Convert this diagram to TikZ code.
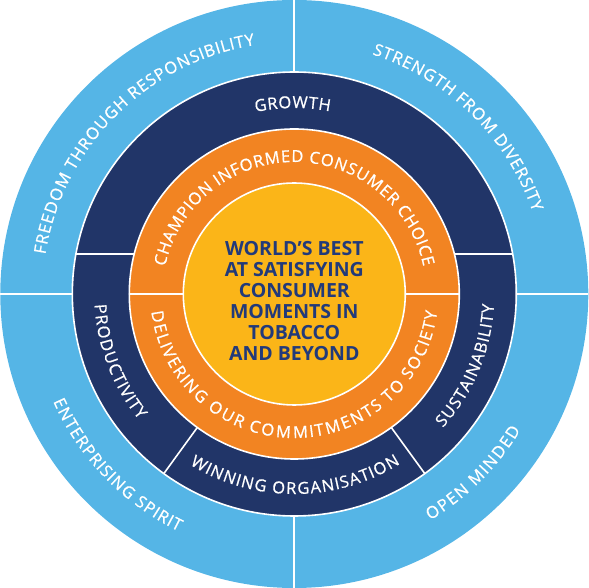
\documentclass[tikz,border=0pt]{standalone}
\usepackage{fontspec}
\setmainfont{Open Sans}
\newfontfamily\lblfam{Open Sans}[FakeBold=0.7]
\usetikzlibrary{decorations.text}
\definecolor{lblue}{HTML}{55B5E6}
\definecolor{navy}{HTML}{213568}
\definecolor{orng}{HTML}{F28422}
\definecolor{yell}{HTML}{FBB518}
\definecolor{ctext}{HTML}{223A7A}
\newcommand\lblfont{\lblfam\fontsize{16.5}{16.5}\selectfont}
\newcommand\ctrfont{\fontsize{19.5}{21}\selectfont\bfseries}
\begin{document}
\begin{tikzpicture}[x=1pt,y=1pt,
  ringtxt/.style={font=\lblfont, text=white, decorate, decoration={text effects along path, text={#1},
     text effects/.cd, text along path, fit text to path,
     characters={text=white, font=\lblfont}}},
  sep/.style={draw=white, line width=1.6pt}
  ]
\useasboundingbox (-294.3,-294) rectangle (294.7,294);
% outer ring
\fill[lblue] (0,0) circle (294);
\draw[sep] (0,-294) -- (0,294);
\draw[sep] (-294,0) -- (294,0);
% navy ring
\filldraw[sep, fill=navy] (0,0) circle (222);
\draw[sep] (-218.4,39.7) -- (218.4,39.7);
\draw[sep] (0,0) -- (234:222);
\draw[sep] (0,0) -- (306:222);
% orange ring
\filldraw[sep, fill=orng] (0,0) circle (165);
\draw[sep] (-165,0) -- (165,0);
% core
\filldraw[sep, fill=yell] (0,0) circle (111);
\node[align=center, text=ctext, font=\ctrfont, inner sep=0pt] (core) at (0,-6.8)
  {WORLD’S BEST\\AT SATISFYING\\CONSUMER\\MOMENTS IN\\TOBACCO\\AND BEYOND};
% outer texts
\path[ringtxt={FREEDOM THROUGH RESPONSIBILITY}] (171:252) arc[start angle=171, end angle=99, radius=252];
\path[ringtxt={STRENGTH FROM DIVERSITY}] (72:252) arc[start angle=72, end angle=19, radius=252];
\path[ringtxt={ENTERPRISING SPIRIT}] (204:264) arc[start angle=204, end angle=244, radius=264];
\path[ringtxt={OPEN MINDED}] (301:264) arc[start angle=301, end angle=329, radius=264];
% navy texts
\path[ringtxt={GROWTH}] (102:186) arc[start angle=102, end angle=79, radius=186];
\path[ringtxt={PRODUCTIVITY}] (183:200) arc[start angle=183, end angle=219, radius=200];
\path[ringtxt={WINNING ORGANISATION}] (238.5:200) arc[start angle=238.5, end angle=302, radius=200];
\path[ringtxt={SUSTAINABILITY}] (318:200) arc[start angle=318, end angle=357, radius=200];
% orange texts
\path[ringtxt={CHAMPION INFORMED CONSUMER CHOICE}] (168:132) arc[start angle=168, end angle=12, radius=132];
\path[ringtxt={DELIVERING OUR COMMITMENTS TO SOCIETY}] (187:144) arc[start angle=187, end angle=353, radius=144];
\end{tikzpicture}
\end{document}
